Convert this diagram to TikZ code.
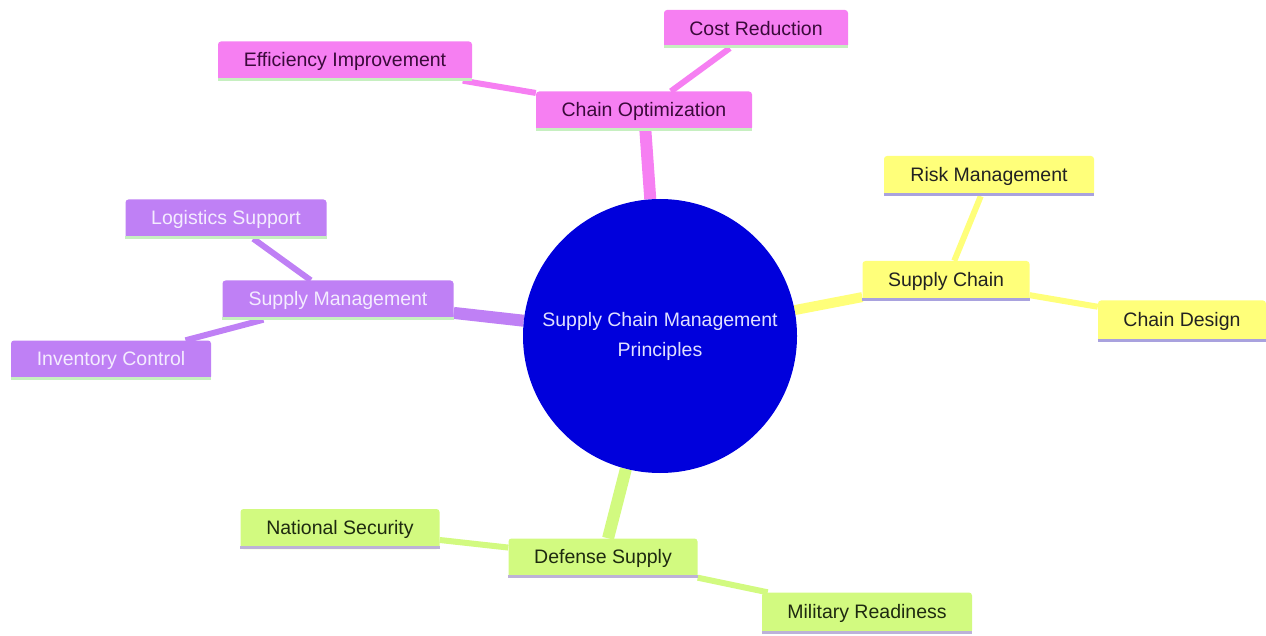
\documentclass[tikz,border=0pt]{standalone}
\usepackage{fontspec}
\setmainfont{Liberation Sans}
\usetikzlibrary{backgrounds}
\definecolor{pinkc}{HTML}{F67FF2}
\definecolor{pinkt}{HTML}{3A0A3A}
\definecolor{yelc}{HTML}{FFFF7A}
\definecolor{yelt}{HTML}{222222}
\definecolor{purc}{HTML}{BF80F5}
\definecolor{purt}{HTML}{F4ECFF}
\definecolor{grnc}{HTML}{D2FA80}
\definecolor{grnt}{HTML}{1E2A10}
\definecolor{bluec}{HTML}{0000DC}
\definecolor{ulgreen}{HTML}{C6EFC0}
\definecolor{ullav}{HTML}{A9A2DE}
\definecolor{ulgrey}{HTML}{BDB2D8}
\tikzset{
  box/.style={rectangle, rounded corners=3pt, inner sep=0pt, font=\fontsize{19.5}{22}\selectfont},
  pinkbox/.style={box, fill=pinkc, text=pinkt},
  yelbox/.style={box, fill=yelc, text=yelt},
  purbox/.style={box, fill=purc, text=purt},
  grnbox/.style={box, fill=grnc, text=grnt},
  uline/.style={line width=3pt},
  thick edge/.style={line width=12pt},
  thin edge/.style={line width=6pt},
}
\begin{document}
\begin{tikzpicture}[x=1pt,y=-1pt]
\useasboundingbox (0,0) rectangle (1266,636);
% root
\node[circle, fill=bluec, minimum size=274pt, inner sep=0pt, text=white!88!blue, align=center,
  font=\fontsize{19.5}{30}\selectfont] (root) at (660,336) {Supply Chain Management\\Principles};
% pink
\node[pinkbox, minimum width=216pt, minimum height=39pt] (co) at (644,111) {Chain Optimization};
\node[pinkbox, minimum width=254pt, minimum height=39pt] (ei) at (345,61) {Efficiency Improvement};
\node[pinkbox, minimum width=184pt, minimum height=38pt] (cr) at (756,29) {Cost Reduction};
% yellow
\node[yelbox, minimum width=167pt, minimum height=40pt] (sc) at (946,281) {Supply Chain};
\node[yelbox, minimum width=210pt, minimum height=40pt] (rm) at (989,176) {Risk Management};
\node[yelbox, minimum width=168pt, minimum height=41pt] (cd) at (1182,321) {Chain Design};
% purple
\node[purbox, minimum width=231pt, minimum height=39pt] (sm) at (338,300) {Supply Management};
\node[purbox, minimum width=201pt, minimum height=39pt] (ls) at (226,219) {Logistics Support};
\node[purbox, minimum width=200pt, minimum height=39pt] (ic) at (111,360) {Inventory Control};
% green
\node[grnbox, minimum width=189pt, minimum height=39pt] (ds) at (603,558) {Defense Supply};
\node[grnbox, minimum width=199pt, minimum height=40pt] (ns) at (340,529) {National Security};
\node[grnbox, minimum width=210pt, minimum height=41pt] (mr) at (867,613) {Military Readiness};
% underlines
\foreach \n/\c in {co/ulgreen, ei/ulgreen, cr/ulgreen, sc/ullav, rm/ullav, cd/ullav,
                   sm/ulgreen, ls/ulgreen, ic/ulgreen, ds/ulgrey, ns/ulgrey, mr/ulgrey}{
  \draw[uline, \c] ([yshift=1.5pt]\n.south west) -- ([yshift=1.5pt]\n.south east);
}
\begin{scope}[on background layer]
\draw[thick edge, pinkc] (root) -- (co);
\draw[thin edge, pinkc] (co) -- (ei);
\draw[thin edge, pinkc] (co) -- (cr);
\draw[line width=10pt, yelc] (root) -- (sc);
\draw[thin edge, yelc] (sc) -- (rm);
\draw[thin edge, yelc] (sc) -- (cd);
\draw[thick edge, purc] (root) -- (sm);
\draw[thin edge, purc] (sm) -- (ls);
\draw[thin edge, purc] (sm) -- (ic);
\draw[thick edge, grnc] (root) -- (ds);
\draw[thin edge, grnc] (ds) -- (ns);
\draw[thin edge, grnc] (ds) -- (mr);
\end{scope}
\end{tikzpicture}
\end{document}
